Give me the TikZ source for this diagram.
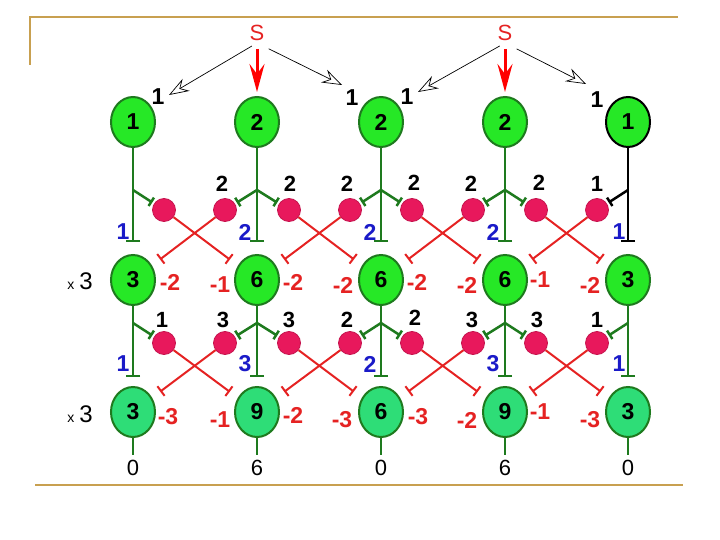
\documentclass[tikz,border=0pt]{standalone}
\usepackage{fontspec}
\setmainfont{Liberation Sans}
\usetikzlibrary{arrows.meta,calc,shapes.geometric}
\definecolor{gold}{HTML}{C8A050}
\definecolor{dgreen}{HTML}{1E7A1E}
\definecolor{nfill}{HTML}{26E826}
\definecolor{bfill}{HTML}{2EDD77}
\definecolor{cfill}{HTML}{E8185C}
\definecolor{rline}{HTML}{E52222}
\definecolor{blab}{HTML}{1A1AC8}
\begin{document}
\begin{tikzpicture}[x=1pt,y=-1pt,
  neuron/.style={ellipse,minimum width=44pt,minimum height=50pt,inner sep=0pt,draw=dgreen,line width=2pt,fill=nfill,font=\fontsize{23}{23}\selectfont\bfseries},
  inter/.style={circle,minimum size=23pt,inner sep=0pt,fill=cfill,draw=cfill!85!black,line width=0.8pt},
  gline/.style={draw=dgreen,line width=2.5pt},
  vinh/.style={gline,-{Bar[width=14pt]},shorten >=12pt},
  vinhb/.style={gline,-{Bar[width=14pt]},shorten >=9pt},
  brinh/.style={gline,-{Bar[width=10pt]},shorten >=2pt},
  redinh/.style={draw=rline,line width=2pt,-{Bar[width=12pt]},shorten >=10pt},
  numlab/.style={inner sep=0pt,font=\fontsize{22}{22}\selectfont\bfseries},
  bluelab/.style={inner sep=0pt,text=blab,font=\fontsize{23}{23}\selectfont\bfseries},
  redlab/.style={inner sep=0pt,text=rline,font=\fontsize{23}{23}\selectfont\bfseries},
  outlab/.style={inner sep=5pt,font=\fontsize{22}{22}\selectfont},
  slab/.style={inner sep=2pt,text=rline,font=\fontsize{22}{22}\selectfont},
  framel/.style={draw=gold,line width=2pt},
  thinarrow/.style={draw=black,line width=0.7pt,-{Stealth[open,length=20pt,width=14pt,inset=7pt]}},
  bigarrow/.style={draw=red,line width=3pt,-{Stealth[length=28pt,width=15pt,inset=10pt]}}
]
\useasboundingbox (0,0) rectangle (720,540);
% frame
\draw[framel] (30,65) -- (30,17) -- (678,17);
\draw[framel] (35,485) -- (683,485);

% neurons
\node[neuron] (t1) at (133,122) {1};
\node[neuron] (t2) at (257,122) {2};
\node[neuron] (t3) at (381,122) {2};
\node[neuron] (t4) at (505,122) {2};
\node[neuron,draw=black] (t5) at (628,122) {1};
\foreach \i/\x/\m/\b/\o in {1/133/3/3/0,2/257/6/9/6,3/381/6/6/0,4/505/6/9/6,5/628/3/3/0}{
  \node[neuron] (m\i) at (\x,280) {\m};
  \node[neuron,fill=bfill] (b\i) at (\x,412) {\b};
  \node[outlab] (o\i) at (\x,468) {\o};
  \coordinate (r\i) at (\x,190);
  \coordinate (s\i) at (\x,323);
}
% interneurons
\foreach \j/\x in {1/164,2/225,3/289,4/350,5/412,6/473,7/536,8/597}{
  \node[inter] (p\j) at (\x,210) {};
  \node[inter] (q\j) at (\x,343) {};
}
% verticals
\foreach \i in {1,2,3,4}{\draw[vinh] (t\i) -- (m\i);}
\draw[vinh,draw=black] (t5) -- (m5);
\foreach \i in {1,...,5}{
  \draw[vinhb] (m\i) -- (b\i);
  \draw[gline,line width=2pt] (b\i) -- (o\i);
}
% branches
\foreach \c/\p in {1/1,2/2,2/3,3/4,3/5,4/6,4/7}{\draw[brinh] (r\c) -- (p\p);}
\draw[brinh,draw=black] (r5) -- (p8);
\foreach \c/\p in {1/1,2/2,2/3,3/4,3/5,4/6,4/7,5/8}{\draw[brinh] (s\c) -- (q\p);}
% inhibitory crossings
\foreach \p/\n in {1/2,2/1,3/3,4/2,5/4,6/3,7/5,8/4}{
  \draw[redinh] (p\p) -- (m\n);
  \draw[redinh] (q\p) -- (b\n);
}
% S inputs
\node[slab] (S1) at (257,33) {S};
\node[slab] (S2) at (505,33) {S};
\coordinate (a1) at (169,95);
\coordinate (a2) at (342,85);
\coordinate (a3) at (418,92);
\coordinate (a4) at (586,84);
\draw[bigarrow,shorten <=6pt,shorten >=4pt] (S1) -- (t2);
\draw[bigarrow,shorten <=6pt,shorten >=4pt] (S2) -- (t4);
\draw[thinarrow,shorten <=6pt] (S1.south) -- (a1);
\draw[thinarrow,shorten <=13pt] (S1.south) -- (a2);
\draw[thinarrow,shorten <=6pt] (S2.south) -- (a3);
\draw[thinarrow,shorten <=13pt] (S2.south) -- (a4);
\node[numlab,font=\fontsize{23}{23}\selectfont\bfseries] (w1) at (158,97) {1};
\node[numlab,font=\fontsize{23}{23}\selectfont\bfseries] (w2) at (352,98) {1};
\node[numlab,font=\fontsize{23}{23}\selectfont\bfseries] (w3) at (407,97) {1};
\node[numlab,font=\fontsize{23}{23}\selectfont\bfseries] (w4) at (597,100) {1};
% weights over interneurons
\foreach \k/\x/\y/\v in {2/222/184/2,3/290/184/2,4/347/184/2,5/414/183/2,6/471/184/2,7/539/183/2,8/597/184/1}{
  \node[numlab] (u\k) at (\x,\y) {\v};
}
\foreach \k/\x/\y/\v in {1/162/320/1,2/223/320/3,3/289/320/3,4/347/320/2,5/415/318/2,6/472/320/3,7/537/320/3,8/597/320/1}{
  \node[numlab] (v\k) at (\x,\y) {\v};
}
% blue weights
\foreach \i/\x/\a/\b in {1/123/1/1,2/245/2/3,3/370/2/2,4/493/2/3,5/619/1/1}{
  \node[bluelab] (g\i) at (\x,232) {\a};
  \node[bluelab] (h\i) at (\x,364) {\b};
}
% red values
\foreach \k/\x/\y/\v in {1/170/282/-2,2/220/285/-1,3/293/282/-2,4/343/285/-2,5/417/282/-2,6/467/285/-2,7/540/280/-1,8/590/285/-2,
  9/168/417/-3,10/220/420/-1,11/293/415/-2,12/342/420/-3,13/418/417/-3,14/467/420/-2,15/540/412/-1,16/590/420/-3}{
  \node[redlab] (e\k) at (\x,\y) {\v};
}
% multipliers
\node[inner sep=0pt] (x1) at (80,281) {{\fontsize{14}{14}\selectfont x}\hspace{5pt}{\fontsize{24}{24}\selectfont 3}};
\node[inner sep=0pt] (x2) at (80,414) {{\fontsize{14}{14}\selectfont x}\hspace{5pt}{\fontsize{24}{24}\selectfont 3}};
\end{tikzpicture}
\end{document}
